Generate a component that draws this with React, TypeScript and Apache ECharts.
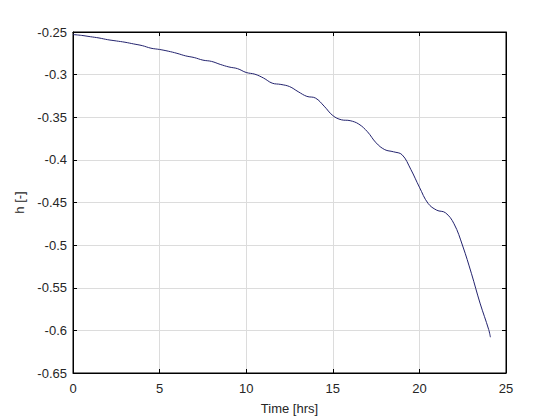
import React, { useEffect, useRef } from "react";
import * as echarts from "echarts";

const hours = [0, 0.5, 1, 1.5, 2, 2.5, 3, 3.5, 4, 4.5, 5, 5.5, 6, 6.5, 7, 7.5, 8, 8.5, 9, 9.5, 10, 10.5, 11, 11.5, 12, 12.5, 13, 13.5, 14, 14.5, 15, 15.5, 16, 16.5, 17, 17.5, 18, 18.5, 19, 19.5, 20, 20.5, 21, 21.5, 22, 22.5, 23, 23.5, 24, 24.1];
const hValues = [-0.253, -0.254, -0.2555, -0.257, -0.259, -0.2605, -0.262, -0.264, -0.266, -0.269, -0.2705, -0.2725, -0.275, -0.278, -0.28, -0.283, -0.2845, -0.288, -0.291, -0.293, -0.2975, -0.2995, -0.304, -0.31, -0.3115, -0.314, -0.32, -0.3255, -0.3275, -0.337, -0.348, -0.353, -0.354, -0.358, -0.367, -0.38, -0.388, -0.3905, -0.394, -0.411, -0.432, -0.451, -0.459, -0.462, -0.475, -0.501, -0.533, -0.568, -0.599, -0.608];

const xTicks = { min: 0, max: 25, interval: 5 };
const yTicks = { min: -0.65, max: -0.25, interval: 0.05 };

export default function App() {
  const ref = useRef<HTMLDivElement>(null);
  useEffect(() => {
    if (!ref.current) return;
    const chart = echarts.init(ref.current, null, { renderer: "svg" });
    const labelStyle = { color: "#262626", fontSize: 13, fontFamily: "Liberation Sans, Arial, sans-serif" };
    const fmtY = (v: number) => parseFloat(v.toFixed(2)).toString();
    chart.setOption({
      animation: false,
      backgroundColor: "#ffffff",
      grid: {
        left: 73, right: 54, top: 32, bottom: 47,
        outerBoundsMode: "none", containLabel: false,
        show: true, borderColor: "#000", borderWidth: 1, backgroundColor: "transparent",
      },
      xAxis: [
        {
          type: "value", min: xTicks.min, max: xTicks.max, interval: xTicks.interval,
          name: "Time [hrs]", nameLocation: "middle", nameGap: 29,
          nameTextStyle: labelStyle,
          axisLine: { show: true, onZero: false, lineStyle: { color: "#000", width: 1 } },
          axisTick: { show: true, inside: true, length: 4, lineStyle: { color: "#000" } },
          axisLabel: { ...labelStyle, margin: 9 },
          splitLine: { show: true, lineStyle: { color: "#dcdcdc", width: 1 } },
        },
        {
          type: "value", position: "top", min: xTicks.min, max: xTicks.max, interval: xTicks.interval,
          axisLine: { show: true, onZero: false, lineStyle: { color: "#000", width: 1 } },
          axisTick: { show: true, inside: true, length: 4, lineStyle: { color: "#000" } },
          axisLabel: { show: false },
          splitLine: { show: false },
        },
      ],
      yAxis: [
        {
          type: "value", min: yTicks.min, max: yTicks.max, interval: yTicks.interval,
          name: "h [-]", nameLocation: "middle", nameGap: 34, nameRotate: 90,
          nameTextStyle: labelStyle,
          axisLine: { show: true, onZero: false, lineStyle: { color: "#000", width: 1 } },
          axisTick: { show: true, inside: true, length: 4, lineStyle: { color: "#000" } },
          axisLabel: { ...labelStyle, margin: 6, formatter: fmtY },
          splitLine: { show: true, lineStyle: { color: "#dcdcdc", width: 1 } },
        },
        {
          type: "value", position: "right", min: yTicks.min, max: yTicks.max, interval: yTicks.interval,
          axisLine: { show: true, onZero: false, lineStyle: { color: "#000", width: 1 } },
          axisTick: { show: true, inside: true, length: 4, lineStyle: { color: "#000" } },
          axisLabel: { show: false },
          splitLine: { show: false },
        },
      ],
      series: [
        {
          type: "line",
          data: hours.map((h, i) => [h, hValues[i]]),
          smooth: 0.4,
          showSymbol: false,
          lineStyle: { color: "#23236e", width: 1 },
          xAxisIndex: 0,
          yAxisIndex: 0,
        },
      ],
    });
    return () => chart.dispose();
  }, []);
  return <div ref={ref} style={{ width: 560, height: 420, position: "absolute", left: 0, top: 0 }} />;
}
